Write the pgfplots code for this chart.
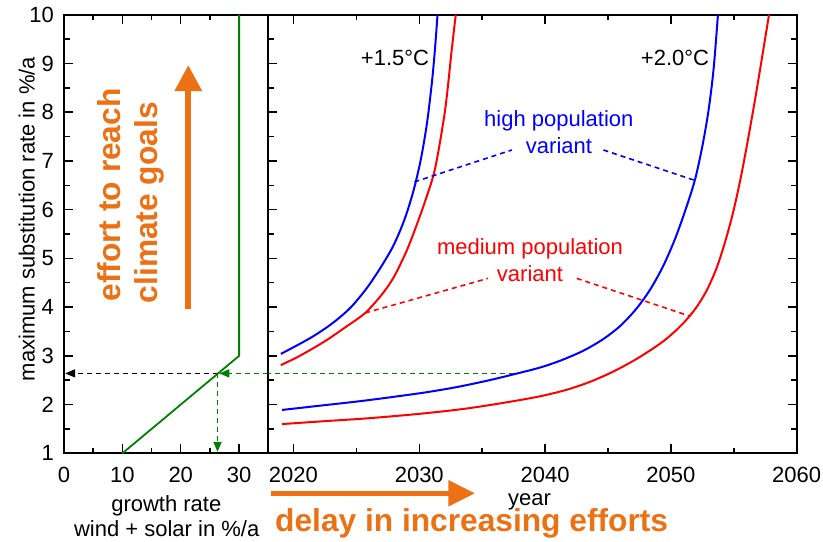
\documentclass[border=0pt]{standalone}
\usepackage{fontspec}
\setmainfont{Liberation Sans}
\usepackage{pgfplots}
\pgfplotsset{compat=1.18}
\usetikzlibrary{arrows.meta}
\definecolor{myorange}{RGB}{236,112,20}
\definecolor{mygreen}{RGB}{0,128,0}
\newcommand\fs{\fontsize{22bp}{26bp}\selectfont}
\newcommand\fb{\fontsize{31.7bp}{36bp}\selectfont\bfseries}
\begin{document}
\fs
\begin{tikzpicture}[font=\fs]
\useasboundingbox (0,0) rectangle (823bp,-542bp);
\pgfplotsset{
  common/.style={
    scale only axis, height=438.6bp, anchor=south west,
    ymin=1, ymax=10, ytick={1,...,10}, minor y tick num=1,
    axis line style={line width=2bp},
    every tick/.style={black, line width=1.5bp},
    major tick length=9bp, minor tick length=5.5bp,
    /pgf/number format/assume math mode=true,
    /pgf/number format/1000 sep={},
    scaled ticks=false,
    tick label style={font=\fs},
    xticklabel style={yshift=-6.5bp},
    yticklabel style={xshift=-2.5bp},
    clip=false,
  },
  curve/.style={line width=2bp, smooth, tension=0.5},
  lead/.style={line width=1.6bp, dash pattern=on 5bp off 4bp},
}
% left panel
\begin{axis}[common, at={(64bp,-453.3bp)}, width=204.3bp,
  xmin=0, xmax=35, xtick={0,10,20,30}, minor x tick num=1,
  ytick pos=left]
\addplot[mygreen, line width=1.8bp] coordinates {(10,1) (30,3) (30,10)};
\addplot[black, lead, -{Triangle[length=10bp,width=8bp]}]
  coordinates {(26.4,2.64) (0.2,2.64)};
\addplot[mygreen, lead, -{Triangle[length=10bp,width=8bp]}]
  coordinates {(26.3,2.64) (26.3,1.03)};
\addplot[mygreen, lead, -{Triangle[length=10bp,width=8bp]}]
  coordinates {(35,2.64) (26.6,2.64)};
\end{axis}
% right panel
\begin{axis}[common, at={(268.3bp,-453.3bp)}, width=528.4bp,
  xmin=2018, xmax=2060, xtick={2020,2030,2040,2050,2060}, minor x tick num=1,
  yticklabels={}]
\addplot[mygreen, lead] coordinates {(2037.5,2.64) (2018,2.64)};
% 1.5 C high population
\addplot[blue, curve] coordinates {
 (2019.0,3.04) (2021.3,3.36) (2023.0,3.65) (2024.5,3.98) (2025.8,4.38)
 (2026.9,4.8) (2027.94,5.26) (2028.8,5.78) (2029.5,6.35) (2030.1,7.0)
 (2030.6,7.75) (2031.0,8.6) (2031.25,9.3) (2031.45,10)};
% 1.5 C medium population
\addplot[red, curve] coordinates {
 (2019.0,2.81) (2020.5,3.0) (2022.5,3.3) (2024.2,3.6) (2025.7,3.88)
 (2027.0,4.25) (2027.94,4.6) (2028.9,5.1) (2029.6,5.55) (2030.5,6.2)
 (2031.26,6.85) (2032.05,8.04) (2032.58,9.28) (2032.9,10)};
% 2.0 C high population
\addplot[blue, curve] coordinates {
 (2019.1,1.89) (2022.2,1.98) (2025.3,2.07) (2028.0,2.16) (2030.5,2.25)
 (2033.0,2.36) (2035.4,2.49) (2037.5,2.62) (2039.6,2.76)
 (2041.2,2.90) (2043.0,3.10) (2044.6,3.34) (2046.0,3.62) (2047.3,3.98)
 (2048.4,4.38) (2049.4,4.85) (2050.3,5.38) (2051.1,5.95) (2051.9,6.6)
 (2052.5,7.3) (2053.0,8.05) (2053.4,8.9) (2053.74,10)};
% 2.0 C medium population
\addplot[red, curve] coordinates {
 (2019.1,1.60) (2022.5,1.66) (2026.0,1.72) (2030.0,1.81) (2033.5,1.91)
 (2036.8,2.04) (2039.6,2.17) (2041.8,2.31) (2043.7,2.48) (2045.6,2.70)
 (2047.55,2.98) (2049.4,3.30) (2050.8,3.62) (2051.9,3.95) (2052.8,4.32)
 (2053.6,4.78) (2054.3,5.33) (2054.95,5.95) (2055.55,6.65) (2056.1,7.4)
 (2056.65,8.2) (2057.2,9.05) (2057.8,10)};
% leader lines
\addplot[blue, lead] coordinates {(2029.62,6.57) (2037.36,7.224)};
\addplot[blue, lead] coordinates {(2044.64,7.224) (2051.9,6.6)};
\addplot[red, lead] coordinates {(2025.7,3.88) (2035.47,4.59)};
\addplot[red, lead] coordinates {(2042.52,4.59) (2051.45,3.82)};
\end{axis}
% texts
\node[rotate=90, anchor=base, inner sep=0] at (34.5bp,-219bp) {maximum substitution rate in \%/a};
\node[anchor=base, inner sep=0] at (166.3bp,-511.7bp) {growth rate};
\node[anchor=base, inner sep=0] at (166.7bp,-536.7bp) {wind + solar in \%/a};
\node[anchor=base, inner sep=0] at (529.5bp,-505.5bp) {year};
\node[anchor=base east, inner sep=0] at (429.3bp,-65bp) {+1.5°C};
\node[anchor=base east, inner sep=0] at (709.3bp,-65bp) {+2.0°C};
\node[anchor=base, inner sep=0, text=blue] at (558.8bp,-126bp) {high population};
\node[anchor=base, inner sep=0, text=blue] at (559bp,-153.3bp) {variant};
\node[anchor=base, inner sep=0, text=red] at (530bp,-254bp) {medium population};
\node[anchor=base, inner sep=0, text=red] at (530bp,-281.7bp) {variant};
% orange annotations
\draw[myorange, line width=6bp, -{Triangle[length=26bp,width=26bp]}] (188.3bp,-309.3bp) -- (188.3bp,-65bp);
\draw[myorange, line width=5.5bp, -{Triangle[length=26.7bp,width=25bp]}] (270.7bp,-493.3bp) -- (475bp,-493.3bp);
\node[rotate=90, anchor=base west, inner sep=0, text=myorange, font=\fb] at (120.7bp,-301.7bp) {effort to reach};
\node[rotate=90, anchor=base west, inner sep=0, text=myorange, font=\fb] at (157.5bp,-303.3bp) {climate goals};
\node[anchor=base west, inner sep=0, text=myorange, font=\fb] at (275bp,-531.7bp) {delay in increasing efforts};
\end{tikzpicture}
\end{document}
